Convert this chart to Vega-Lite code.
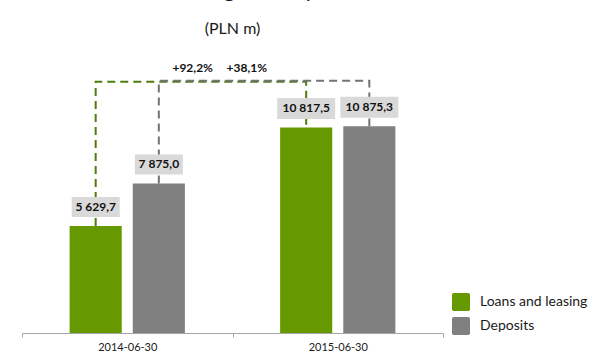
{
  "$schema": "https://vega.github.io/schema/vega-lite/v6.json",
  "width": 421,
  "height": 266,
  "autosize": {"type": "none"},
  "padding": {"left": 22, "top": 67, "right": 152, "bottom": 21},
  "background": "white",
  "config": {"view": {"stroke": null}, "font": "Lato"},
  "title": {
    "text": "Loans, leasing and deposits",
    "subtitle": "(PLN m)",
    "fontSize": 22,
    "fontWeight": "normal",
    "color": "#1a1a1a",
    "subtitleFontSize": 16,
    "subtitleColor": "#1a1a1a",
    "subtitlePadding": 19,
    "offset": 24,
    "anchor": "middle",
    "frame": "group",
    "font": "Lato",
    "subtitleFont": "Lato"
  },
  "datasets": {
    "bars": [
      {"date": "2014-06-30", "series": "Loans and leasing", "value": 5629.7, "label": "5 629,7"},
      {"date": "2014-06-30", "series": "Deposits", "value": 7875.0, "label": "7 875,0"},
      {"date": "2015-06-30", "series": "Loans and leasing", "value": 10817.5, "label": "10 817,5"},
      {"date": "2015-06-30", "series": "Deposits", "value": 10875.3, "label": "10 875,3"}
    ],
    "links": [
      {"series": "Loans and leasing", "date": "2014-06-30", "value": 5629.7, "step": 1},
      {"series": "Loans and leasing", "date": "2014-06-30", "value": 13230, "step": 2},
      {"series": "Loans and leasing", "date": "2015-06-30", "value": 13230, "step": 3},
      {"series": "Loans and leasing", "date": "2015-06-30", "value": 10817.5, "step": 4},
      {"series": "Deposits", "date": "2014-06-30", "value": 7875.0, "step": 1},
      {"series": "Deposits", "date": "2014-06-30", "value": 13280, "step": 2},
      {"series": "Deposits", "date": "2015-06-30", "value": 13280, "step": 3},
      {"series": "Deposits", "date": "2015-06-30", "value": 10875.3, "step": 4}
    ],
    "growth": [
      {"series": "Loans and leasing", "date": "2014-06-30", "level": 13280, "label": "+92,2%"},
      {"series": "Deposits", "date": "2014-06-30", "level": 13280, "label": "+38,1%"}
    ]
  },
  "encoding": {
    "x": {
      "field": "date",
      "type": "nominal",
      "scale": {"paddingInner": 0, "paddingOuter": 0},
      "axis": {
        "title": null,
        "labelAngle": 0,
        "tickBand": "extent",
        "tickSize": 4,
        "domainColor": "#a6a6a6",
        "tickColor": "#a6a6a6",
        "labelFontSize": 11,
        "labelColor": "#1a1a1a",
        "labelPadding": 4,
        "labelFont": "Lato",
        "grid": false
      }
    },
    "xOffset": {
      "field": "series",
      "type": "nominal",
      "scale": {"domain": ["Loans and leasing", "Deposits"], "paddingInner": 0.175, "paddingOuter": 0.754}
    }
  },
  "layer": [
    {
      "data": {"name": "bars"},
      "mark": {"type": "bar"},
      "encoding": {
        "y": {"field": "value", "type": "quantitative", "scale": {"domain": [0, 14000], "nice": false}, "axis": null},
        "color": {
          "field": "series",
          "type": "nominal",
          "scale": {"domain": ["Loans and leasing", "Deposits"], "range": ["#669900", "#808080"]},
          "legend": {
            "title": null,
            "orient": "none",
            "legendX": 430,
            "legendY": 226,
            "symbolType": "M-0.8,-1H0.8Q1,-1 1,-0.8V0.8Q1,1 0.8,1H-0.8Q-1,1 -1,0.8V-0.8Q-1,-1 -0.8,-1Z",
            "symbolSize": 324,
            "symbolStrokeWidth": 0,
            "labelFontSize": 14,
            "labelFont": "Lato",
            "labelColor": "#1a1a1a",
            "rowPadding": 6,
            "labelOffset": 10,
            "padding": 0
          }
        }
      }
    },
    {
      "data": {"name": "links"},
      "mark": {"type": "line", "strokeDash": [8, 5], "strokeWidth": 2},
      "encoding": {
        "y": {"field": "value", "type": "quantitative"},
        "order": {"field": "step", "type": "quantitative"},
        "stroke": {
          "field": "series",
          "type": "nominal",
          "scale": {"domain": ["Loans and leasing", "Deposits"], "range": ["#4e7d0e", "#737373"]},
          "legend": null
        }
      }
    },
    {
      "data": {"name": "bars"},
      "mark": {"type": "point", "filled": true, "color": "#d9d9d9", "opacity": 1, "size": 4, "yOffset": -19, "strokeWidth": 0},
      "encoding": {
        "y": {"field": "value", "type": "quantitative"},
        "shape": {
          "condition": {"test": "datum.value > 10000", "value": "M-29,-10.5H29V10.5H-29Z"},
          "value": "M-24,-10H24V10H-24Z"
        }
      }
    },
    {
      "data": {"name": "bars"},
      "mark": {"type": "text", "fontWeight": "bold", "fontSize": 12, "font": "Lato", "color": "#111111", "yOffset": -19, "baseline": "middle"},
      "encoding": {
        "y": {"field": "value", "type": "quantitative"},
        "text": {"field": "label", "type": "nominal"}
      }
    },
    {
      "data": {"name": "growth"},
      "transform": [{"filter": "datum.series === 'Loans and leasing'"}],
      "mark": {"type": "text", "fontWeight": "bold", "fontSize": 12, "font": "Lato", "color": "#111111", "dx": 97, "dy": -13, "baseline": "middle"},
      "encoding": {
        "y": {"field": "level", "type": "quantitative"},
        "text": {"field": "label", "type": "nominal"}
      }
    },
    {
      "data": {"name": "growth"},
      "transform": [{"filter": "datum.series === 'Deposits'"}],
      "mark": {"type": "text", "fontWeight": "bold", "fontSize": 12, "font": "Lato", "color": "#111111", "dx": 88, "dy": -13, "baseline": "middle"},
      "encoding": {
        "y": {"field": "level", "type": "quantitative"},
        "text": {"field": "label", "type": "nominal"}
      }
    }
  ]
}
